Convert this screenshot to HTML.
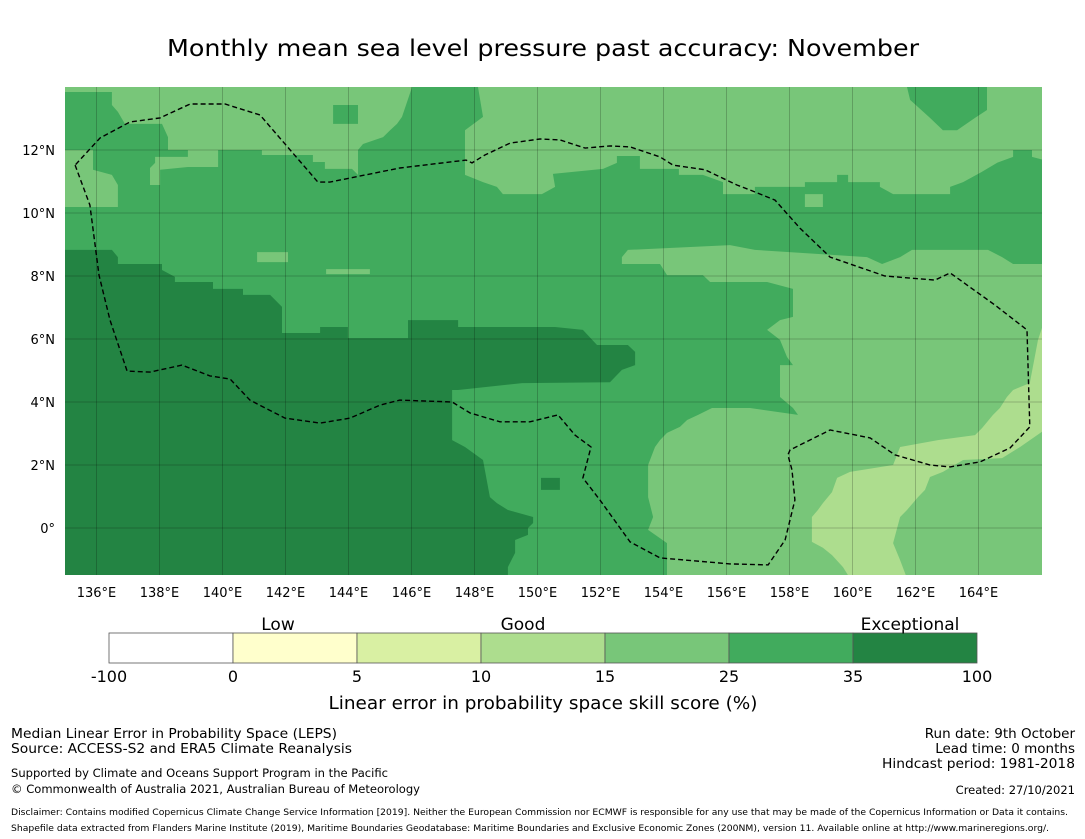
<!DOCTYPE html>
<html><head><meta charset="utf-8"><style>
body{margin:0;background:#fff;}
svg{display:block;font-family:"DejaVu Sans","Liberation Sans",sans-serif;}
</style></head><body>
<svg id="chart" width="1085" height="839" viewBox="0 0 1085 839" xmlns="http://www.w3.org/2000/svg">
<text x="543" y="56" text-anchor="middle" font-size="23.5" textLength="752" lengthAdjust="spacingAndGlyphs">Monthly mean sea level pressure past accuracy: November</text>
<defs><clipPath id="mapclip"><rect x="65" y="87" width="977" height="488"/></clipPath></defs>
<g id="map" clip-path="url(#mapclip)"></g>
<g id="axes"></g>
<g id="cbar"></g>
<text x="278" y="630" text-anchor="middle" font-size="17">Low</text>
<text x="523" y="630" text-anchor="middle" font-size="17">Good</text>
<text x="910" y="630" text-anchor="middle" font-size="17">Exceptional</text>
<text x="543" y="709" text-anchor="middle" font-size="17.5" textLength="429" lengthAdjust="spacingAndGlyphs">Linear error in probability space skill score (%)</text>
<g font-size="13.5">
<text x="11" y="738" textLength="326" lengthAdjust="spacingAndGlyphs">Median Linear Error in Probability Space (LEPS)</text>
<text x="11" y="753" textLength="341" lengthAdjust="spacingAndGlyphs">Source: ACCESS-S2 and ERA5 Climate Reanalysis</text>
<text x="11" y="777" font-size="11.5" textLength="377" lengthAdjust="spacingAndGlyphs">Supported by Climate and Oceans Support Program in the Pacific</text>
<text x="11" y="793" font-size="11.5" textLength="409" lengthAdjust="spacingAndGlyphs">© Commonwealth of Australia 2021, Australian Bureau of Meteorology</text>
</g>
<g font-size="13.5" text-anchor="end">
<text x="1075" y="738">Run date: 9th October</text>
<text x="1075" y="753">Lead time: 0 months</text>
<text x="1075" y="768" textLength="193" lengthAdjust="spacingAndGlyphs">Hindcast period: 1981-2018</text>
<text x="1075" y="794" font-size="11.5">Created: 27/10/2021</text>
</g>
<text x="11" y="815" font-size="9" textLength="1057" lengthAdjust="spacingAndGlyphs">Disclaimer: Contains modified Copernicus Climate Change Service Information [2019]. Neither the European Commission nor ECMWF is responsible for any use that may be made of the Copernicus Information or Data it contains.</text>
<text x="11" y="831" font-size="9" textLength="1038" lengthAdjust="spacingAndGlyphs">Shapefile data extracted from Flanders Marine Institute (2019), Maritime Boundaries Geodatabase: Maritime Boundaries and Exclusive Economic Zones (200NM), version 11. Available online at http://www.marineregions.org/.</text>
</svg>
<script>
const lonTicks=[136,138,140,142,144,146,148,150,152,154,156,158,160,162,164];
const latTicks=[12,10,8,6,4,2,0];
const latLabels=["12°N","10°N","8°N","6°N","4°N","2°N","0°"];
const cbBounds=["-100","0","5","10","15","25","35","100"];
const cbColors=["#ffffff","#ffffcc","#d9f0a3","#addd8e","#78c679","#41ab5d","#238443"];
const regionMedium=[[135,13.84],[136.49,13.84],[136.49,13.43],[136.68,13.21],[136.90,12.83],[138.08,12.83],[138.27,12.41],[138.27,12.0],[141.25,12.0],[141.25,11.84],[142.87,11.84],[142.87,11.62],[143.25,11.62],[143.25,11.40],[144.11,11.40],[144.30,11.21],[144.30,12.0],[144.46,12.19],[145.10,12.41],[145.32,12.63],[145.54,12.83],[145.70,13.05],[146.02,14],[148.11,14],[148.27,13.05],[147.70,12.63],[147.70,11.21],[148.27,10.98],[148.71,10.83],[148.90,10.60],[150.14,10.60],[150.56,10.83],[150.49,11.24],[152.08,11.40],[152.52,11.59],[152.52,11.81],[153.25,11.81],[153.25,11.40],[154.49,11.40],[154.49,11.21],[155.25,11.21],[155.89,10.98],[155.89,10.60],[156.90,10.60],[156.90,10.83],[158.49,10.83],[158.49,10.98],[159.51,10.98],[159.51,11.21],[159.86,11.21],[159.86,10.98],[160.87,10.98],[160.87,10.83],[161.29,10.60],[163.10,10.60],[163.10,10.83],[163.51,10.98],[164.10,11.30],[164.60,11.60],[165.10,11.78],[165.10,12.0],[165.70,12.0],[165.70,11.78],[166.02,11.70],[166.02,8.38],[165.10,8.38],[164.75,8.60],[164.30,8.83],[161.89,8.83],[161.51,8.60],[160.94,8.38],[160.46,8.60],[156.90,8.83],[156.11,8.98],[152.87,8.83],[152.68,8.60],[152.68,8.38],[153.89,8.38],[154.11,8.03],[155.25,8.03],[155.48,7.81],[157.29,7.81],[158.11,7.59],[158.11,6.70],[157.70,6.60],[157.29,6.29],[157.70,5.97],[157.92,5.43],[158.11,5.17],[157.70,5.17],[157.70,4.16],[158.11,3.81],[158.27,3.59],[156.75,3.81],[155.54,3.81],[155.10,3.59],[154.75,3.43],[154.52,3.21],[154.11,3.02],[153.89,2.79],[153.73,2.57],[153.51,2.0],[153.51,0.98],[153.67,0.35],[153.51,-0.06],[154.11,-0.48],[154.11,-1.6],[135,-1.6]];
const regionMediumCross=[[143.51,13.43],[144.30,13.43],[144.30,12.83],[143.51,12.83]];
const regionMediumNE=[[161.73,14],[164.27,14],[164.27,13.27],[163.89,13.02],[163.32,12.63],[162.87,12.63],[162.46,13.02],[161.83,13.59]];
const regionLight1=[[135,12.0],[135.89,12.0],[135.89,11.37],[136.49,11.21],[136.68,10.89],[136.68,10.19],[135,10.19]];
const regionLight2=[[137.70,11.43],[137.86,11.59],[137.86,11.78],[138.90,11.78],[138.90,12.0],[139.86,12.0],[139.86,11.46],[138.90,11.46],[138.02,11.37],[138.02,10.89],[137.70,10.89]];
const regionLight3=[[141.10,8.76],[142.08,8.76],[142.08,8.44],[141.10,8.44]];
const regionLight4=[[143.29,8.22],[144.68,8.22],[144.68,8.06],[143.29,8.06]];
const regionLight5=[[158.49,10.6],[159.06,10.6],[159.06,10.19],[158.49,10.19]];
const regionDark=[[135,8.83],[136.49,8.83],[136.68,8.60],[136.68,8.38],[138.08,8.38],[138.08,8.19],[138.49,7.97],[138.49,7.81],[139.70,7.81],[139.70,7.59],[140.65,7.59],[140.65,7.40],[141.51,7.40],[141.89,7.02],[141.89,6.19],[143.10,6.19],[143.10,6.38],[143.98,6.38],[143.98,6.03],[145.89,6.03],[145.89,6.60],[147.48,6.60],[147.48,6.38],[150.56,6.38],[151.44,6.29],[151.89,5.81],[152.87,5.81],[153.10,5.59],[153.10,5.17],[152.68,5.02],[152.30,4.63],[149.51,4.60],[147.48,4.38],[147.29,4.38],[147.29,2.79],[147.70,2.57],[148.27,2.16],[148.49,0.98],[148.71,0.79],[149.06,0.57],[149.86,0.35],[149.86,0.16],[149.70,0],[149.70,-0.22],[149.29,-0.38],[149.29,-0.79],[149.06,-1.24],[149.06,-1.6],[135,-1.6]];
const regionDarkSquare=[[150.11,1.59],[150.71,1.59],[150.71,1.21],[150.11,1.21]];
const regionPale=[[166.1,6.60],[165.89,5.97],[165.63,4.60],[165.10,4.38],[164.90,4.16],[164.68,3.81],[164.46,3.59],[164.11,3.17],[163.89,2.95],[162.71,2.79],[161.51,2.57],[161.29,2.0],[159.92,1.78],[159.51,1.59],[159.35,1.14],[159.06,0.79],[158.90,0.57],[158.71,0.35],[158.71,-0.44],[159.06,-0.63],[159.35,-0.86],[159.70,-1.24],[159.92,-1.6],[161.73,-1.6],[161.51,-1.02],[161.29,-0.48],[161.51,0.35],[161.73,0.57],[162.08,0.98],[162.30,1.21],[162.46,1.62],[162.87,1.78],[163.51,2.16],[164.75,2.22],[165.32,2.57],[166.1,3.11]];
const boundaryLine=[[135.32,11.52],[135.79,10.25],[136.08,8.03],[136.43,6.60],[136.97,4.98],[137.70,4.95],[138.71,5.17],[139.60,4.83],[140.24,4.73],[140.87,4.06],[141.98,3.49],[143.10,3.33],[144.05,3.49],[145.0,3.90],[145.63,4.06],[147.29,4.0],[147.86,3.65],[148.81,3.37],[149.76,3.37],[150.65,3.59],[151.19,2.95],[151.70,2.57],[151.44,1.59],[151.98,0.89],[152.94,-0.44],[153.89,-0.95],[156.11,-1.14],[157.32,-1.17],[157.86,-0.38],[158.17,0.89],[158.08,1.84],[157.95,2.32],[158.02,2.48],[159.29,3.11],[160.56,2.86],[161.35,2.32],[162.46,2.0],[163.10,1.94],[164.05,2.10],[165.0,2.54],[165.63,3.21],[165.54,6.29],[164.52,7.08],[163.10,8.10],[162.62,7.87],[161.03,8.0],[159.29,8.60],[158.33,9.52],[157.54,10.41],[156.75,10.73],[156.33,10.89],[155.32,11.37],[154.30,11.52],[153.89,11.78],[152.94,12.10],[152.30,12.13],[151.51,12.06],[150.71,12.32],[150.08,12.35],[149.13,12.22],[148.33,11.84],[147.92,11.59],[147.73,11.68],[145.63,11.43],[143.41,10.98],[143.03,10.98],[141.19,13.11],[140.08,13.46],[138.97,13.46],[138.02,13.02],[137.06,12.89],[136.11,12.38],[135.32,11.52]];

const X=lon=>65+(lon-135)*31.5;
const Y=lat=>87+(14-lat)*31.5;
const NS="http://www.w3.org/2000/svg";
function mk(tag,attrs,parent){const e=document.createElementNS(NS,tag);for(const k in attrs)e.setAttribute(k,attrs[k]);parent.appendChild(e);return e;}
const pts=a=>a.map(p=>X(p[0]).toFixed(1)+","+Y(p[1]).toFixed(1)).join(" ");
const map=document.getElementById("map");
const bg=mk("rect",{x:65,y:87,width:977,height:488,fill:"#78c679"},map);


function region(arr,fill,name){const p=mk("polygon",{points:pts(arr),fill:fill},map);

}
region(regionMedium,"#41ab5d","region-25-35");
region(regionMediumCross,"#41ab5d","region-25-35-patch");
region(regionMediumNE,"#41ab5d","region-25-35-northeast");
region(regionLight1,"#78c679","region-15-25-west");
region(regionLight2,"#78c679","region-15-25-patch");
region(regionLight3,"#78c679","region-15-25-strip");
region(regionLight4,"#78c679","region-15-25-strip-2");
region(regionLight5,"#78c679","region-15-25-patch-2");
region(regionDark,"#238443","region-35-100");
region(regionDarkSquare,"#238443","region-35-100-patch");
region(regionPale,"#addd8e","region-10-15");
lonTicks.forEach(l=>{const g=mk("line",{x1:X(l),x2:X(l),y1:87,y2:575,stroke:"rgba(0,0,0,0.2)","stroke-width":1},map);

});
latTicks.forEach(l=>{const g=mk("line",{x1:65,x2:1042,y1:Y(l),y2:Y(l),stroke:"rgba(0,0,0,0.2)","stroke-width":1},map);

});
const bl=mk("polyline",{points:pts(boundaryLine),fill:"none",stroke:"#000","stroke-width":1.4,"stroke-dasharray":"5,3"},map);


const axes=document.getElementById("axes");
lonTicks.forEach(l=>{const t=mk("text",{x:X(l),y:597,"text-anchor":"middle","font-size":13},axes);t.textContent=l+"°E";

});
latTicks.forEach((l,i)=>{const t=mk("text",{x:55,y:Y(l)+5,"text-anchor":"end","font-size":13},axes);t.textContent=latLabels[i];

});
const cb=document.getElementById("cbar");
const segW=124;
cbColors.forEach((c,i)=>{const r=mk("rect",{x:109+i*segW,y:633,width:segW,height:30,fill:c,stroke:"#555","stroke-width":0.8},cb);

});
cbBounds.forEach((b,i)=>{const t=mk("text",{x:109+i*segW,y:682,"text-anchor":"middle","font-size":16},cb);t.textContent=b;

});
</script>
</body></html>
